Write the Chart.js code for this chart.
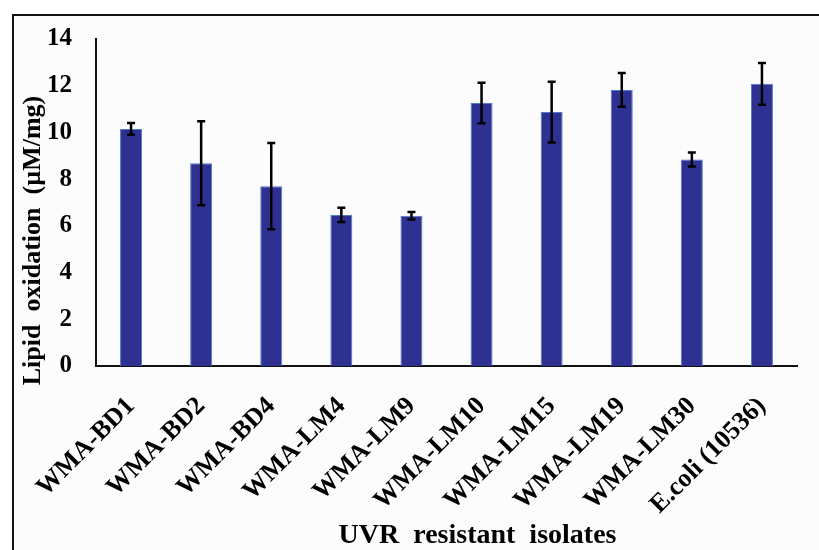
<!DOCTYPE html>
<html>
<head>
<meta charset="utf-8">
<script src="https://cdn.jsdelivr.net/npm/chart.js@4.4.1/dist/chart.umd.min.js"></script>
<style>
	html, body { margin:0; padding:0; background:#fff; overflow:hidden; }
	#frame { position:absolute; left:12px; top:14px; width:900px; height:700px; border:2px solid #111; background:#fcfcfc; }
	#wrap { position:absolute; left:0; top:0; width:819px; height:550px; }
</style>
</head>
<body>
<div id="frame"></div>
<div id="wrap"><canvas id="chart" width="819" height="550"></canvas></div>
<script>
// data
const isolates = ['WMA-BD1', 'WMA-BD2', 'WMA-BD4', 'WMA-LM4', 'WMA-LM9', 'WMA-LM10', 'WMA-LM15', 'WMA-LM19', 'WMA-LM30', 'E.coli (10536)']
const lipid_oxidation = [10.15, 8.68, 7.70, 6.47, 6.43, 11.26, 10.87, 11.82, 8.84, 12.08]
const std_error = [0.25, 1.80, 1.85, 0.30, 0.16, 0.87, 1.30, 0.72, 0.30, 0.89]
const y_min = 0
const y_max = 14
const y_step = 2

const x_title = 'UVR  resistant  isolates'
const y_title = 'Lipid  oxidation  (\u00b5M/mg)'

const serif = "'Liberation Serif', 'Times New Roman', serif"

// draws the error bars from the y scale
const errorBars = {
	id: 'errorBars',
	afterDatasetsDraw(chart) {
		const ctx = chart.ctx
		const y = chart.scales.y
		const meta = chart.getDatasetMeta(0)
		ctx.save()
		ctx.strokeStyle = '#000'
		ctx.lineWidth = 2.5
		meta.data.forEach((bar, i) => {
			const top = y.getPixelForValue(lipid_oxidation[i] + std_error[i])
			const bottom = y.getPixelForValue(lipid_oxidation[i] - std_error[i])
			ctx.beginPath()
			ctx.moveTo(bar.x, top); ctx.lineTo(bar.x, bottom)
			ctx.moveTo(bar.x - 4, top); ctx.lineTo(bar.x + 4, top)
			ctx.moveTo(bar.x - 4, bottom); ctx.lineTo(bar.x + 4, bottom)
			ctx.stroke()
		})
		ctx.restore()
	}
}

// axis titles sit a bit off-centre in the original
const axisTitles = {
	id: 'axisTitles',
	afterDraw(chart) {
		const ctx = chart.ctx
		const area = chart.chartArea
		ctx.save()
		ctx.fillStyle = '#000'
		ctx.font = 'bold 28px ' + serif
		ctx.textAlign = 'center'
		ctx.textBaseline = 'middle'
		ctx.fillText(x_title, (area.left + area.right) / 2 + 31, 536)

		ctx.font = 'bold 26px ' + serif
		ctx.translate(33, (area.top + area.bottom) / 2 + 38)
		ctx.rotate(-Math.PI / 2)
		ctx.fillText(y_title, 0, 0)
		ctx.restore()
	}
}

new Chart(document.getElementById('chart'), {
	type: 'bar',
	data: {
		labels: isolates,
		datasets: [{
			data: lipid_oxidation,
			backgroundColor: '#2f3192',
			borderColor: '#4f79c9',
			borderWidth: 1,
			barPercentage: 0.314,
			categoryPercentage: 1.0
		}]
	},
	options: {
		responsive: false,
		animation: false,
		devicePixelRatio: 1,
		layout: { padding: { top: 32, right: 22, left: 0, bottom: 0 } },
		plugins: {
			legend: { display: false },
			tooltip: { enabled: false }
		},
		scales: {
			x: {
				grid: { display: false, drawTicks: false },
				border: { display: true, color: '#111', width: 2 },
				ticks: {
					color: '#000',
					font: { family: serif, size: 26, weight: 'bold' },
					minRotation: 45,
					maxRotation: 45,
					padding: 25,
					autoSkip: false
				},
				afterFit: (scale) => { scale.height = 184 }
			},
			y: {
				min: y_min,
				max: y_max,
				grid: { display: false, drawTicks: false },
				border: { display: true, color: '#111', width: 2 },
				ticks: {
					stepSize: y_step,
					color: '#000',
					font: { family: serif, size: 25, weight: 'bold' },
					padding: 24
				},
				afterFit: (scale) => { scale.width = 96 }
			}
		}
	},
	plugins: [errorBars, axisTitles]
})
</script>
</body>
</html>
